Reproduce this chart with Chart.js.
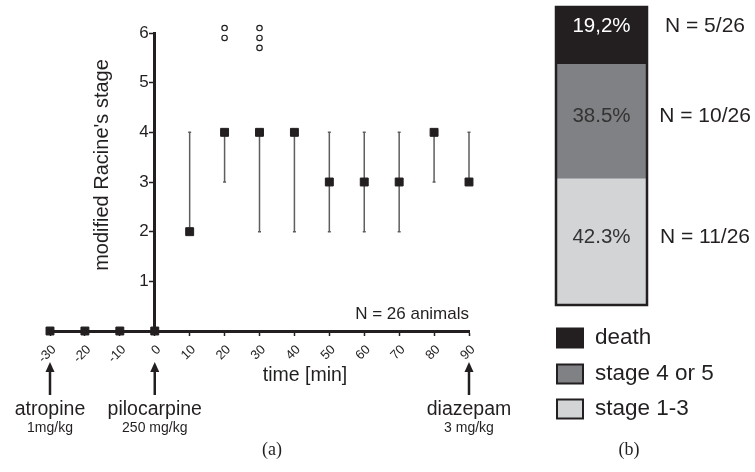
<!DOCTYPE html>
<html>
<head>
<meta charset="utf-8">
<script src="https://cdn.jsdelivr.net/npm/chart.js@4.4.0/dist/chart.umd.min.js"></script>
<style>
  html, body { margin: 0; padding: 0; background: #fff; }
  body { width: 755px; height: 472px; position: relative; overflow: hidden; }
  #boxA { position: absolute; left: 0; top: 0; width: 540px; height: 472px; }
  #boxB { position: absolute; left: 540px; top: 0; width: 215px; height: 472px; }
</style>
</head>
<body>
<div id="boxA"><canvas id="chartA"></canvas></div>
<div id="boxB"><canvas id="chartB"></canvas></div>
<script>
// (a) stade de Racine au cours du temps
const times = [-30, -20, -10, 0, 10, 20, 30, 40, 50, 60, 70, 80, 90];
const medianStage = [0, 0, 0, 0, 2, 4, 4, 4, 3, 3, 3, 4, 3];
const lowStage = [null, null, null, null, 2, 3, 2, 2, 2, 2, 2, 3, 3];
const highStage = [null, null, null, null, 4, 4, 4, 4, 4, 4, 4, 4, 4];
const deathTimes = [20, 20, 30, 30, 30];
const deathStage = [6.1, 5.9, 6.1, 5.9, 5.7];
const drugTimes = [-30, 0, 90];
const drugNames = ['atropine', 'pilocarpine', 'diazepam'];
const drugDoses = ['1mg/kg', '250 mg/kg', '3 mg/kg'];

// (b) issue des animaux
const outcomeLabels = ['stage 1-3', 'stage 4 or 5', 'death'];
const outcomePct = [42.3, 38.5, 19.2];
const outcomePctText = ['42.3%', '38.5%', '19,2%'];
const outcomeN = [11, 10, 5];
const totalN = 26;

const SANS = '"Liberation Sans", Arial, sans-serif';
const SERIF = '"Liberation Serif", "Times New Roman", serif';
const INK = '#231f20';

// barres d'erreur + annotations sous l'axe
const annotA = {
    id: 'annotA',
    beforeDatasetsDraw(chart) {
        const { ctx, scales: { x, y } } = chart;
        ctx.save();
        ctx.strokeStyle = '#5e5e5e';
        ctx.lineWidth = 1.5;
        times.forEach((t, i) => {
            if (lowStage[i] == null) return;
            const px = x.getPixelForValue(t);
            const y1 = y.getPixelForValue(lowStage[i]);
            const y2 = y.getPixelForValue(highStage[i]);
            ctx.beginPath();
            ctx.moveTo(px, y1); ctx.lineTo(px, y2);
            ctx.moveTo(px - 1.5, y1); ctx.lineTo(px + 1.5, y1);
            ctx.moveTo(px - 1.5, y2); ctx.lineTo(px + 1.5, y2);
            ctx.stroke();
        });
        ctx.restore();
    },
    afterDraw(chart) {
        const { ctx, scales: { x, y } } = chart;
        const base = y.getPixelForValue(0);
        ctx.save();
        ctx.fillStyle = INK;
        ctx.strokeStyle = INK;
        ctx.textAlign = 'center';
        ctx.textBaseline = 'middle';

        // flèches des injections
        drugTimes.forEach((t, i) => {
            const px = x.getPixelForValue(t);
            const tip = base + 31;
            ctx.lineWidth = 2.5;
            ctx.beginPath();
            ctx.moveTo(px, tip + 8); ctx.lineTo(px, base + 64);
            ctx.stroke();
            ctx.beginPath();
            ctx.moveTo(px, tip); ctx.lineTo(px - 4.5, tip + 10); ctx.lineTo(px + 4.5, tip + 10);
            ctx.closePath();
            ctx.fill();
            ctx.font = '19.5px ' + SANS;
            ctx.fillText(drugNames[i], px, base + 79);
            ctx.font = '14px ' + SANS;
            ctx.fillText(drugDoses[i], px, base + 97);
        });

        ctx.font = '19.5px ' + SANS;
        ctx.fillText('time [min]', 305, base + 45);

        ctx.font = '17px ' + SANS;
        ctx.textAlign = 'right';
        ctx.fillText('N = 26 animals', x.right, base - 17);

        // titre de l'axe y
        ctx.save();
        ctx.translate(102, 165);
        ctx.rotate(-Math.PI / 2);
        ctx.textAlign = 'center';
        ctx.font = '20px ' + SANS;
        ctx.fillText("modified Racine's stage", 0, 0);
        ctx.restore();

        ctx.textAlign = 'center';
        ctx.font = '18px ' + SERIF;
        ctx.fillText('(a)', 272, 450);
        ctx.restore();
    }
};

new Chart(document.getElementById('chartA'), {
    type: 'scatter',
    data: {
        datasets: [{
            label: 'median',
            data: times.map((t, i) => ({ x: t, y: medianStage[i] })),
            pointStyle: 'rect',
            pointRadius: 5.6,
            backgroundColor: INK,
            borderColor: INK,
            borderWidth: 1,
            clip: false
        }, {
            label: 'death',
            data: deathTimes.map((t, i) => ({ x: t, y: deathStage[i] })),
            pointStyle: 'circle',
            pointRadius: 2.7,
            backgroundColor: '#fff',
            borderColor: INK,
            borderWidth: 1.2,
            clip: false
        }]
    },
    options: {
        responsive: true,
        maintainAspectRatio: false,
        animation: false,
        layout: { padding: { left: 50, right: 71, top: 33, bottom: 0 } },
        scales: {
            x: {
                type: 'linear',
                min: -30,
                max: 90,
                afterFit: (scale) => { scale.height = 141; },
                ticks: {
                    stepSize: 10,
                    autoSkip: false,
                    minRotation: 45,
                    maxRotation: 45,
                    padding: 6,
                    labelOffset: 4,
                    color: INK,
                    font: { family: SANS, size: 13 }
                },
                grid: { drawOnChartArea: false, drawTicks: true, tickLength: 5, tickColor: INK, tickWidth: 1.5 },
                border: { color: INK, width: 3 }
            },
            y: {
                min: 0,
                max: 6,
                position: { x: 0 },
                ticks: {
                    stepSize: 1,
                    color: INK,
                    font: { family: SANS, size: 17 },
                    // l'axe est placé à x = 0 : Chart.js n'ajoute pas de marge, on la met dans le texte
                    callback: (v) => (v === 0 ? '' : v + ' \u200A')
                },
                grid: { drawOnChartArea: false, drawTicks: true, tickLength: 4, tickColor: INK, tickWidth: 1.5 },
                border: { color: INK, width: 3 }
            }
        },
        plugins: {
            legend: { display: false },
            tooltip: { enabled: false }
        }
    },
    plugins: [annotA]
});

// contour de la barre, pourcentages, effectifs et légende
const annotB = {
    id: 'annotB',
    afterDatasetsDraw(chart) {
        const { ctx } = chart;
        const n = chart.data.datasets.length;
        const els = chart.data.datasets.map((d, i) => chart.getDatasetMeta(i).data[0]);
        const first = els[0], last = els[n - 1];
        ctx.save();
        ctx.strokeStyle = INK;
        ctx.lineWidth = 2.5;
        ctx.strokeRect(first.x - first.width / 2, last.y, first.width, first.base - last.y);

        ctx.textAlign = 'center';
        ctx.textBaseline = 'middle';
        els.forEach((el, i) => {
            const cy = (el.y + el.base) / 2 - (i === n - 1 ? 9 : 5);
            ctx.font = '20.5px ' + SANS;
            ctx.fillStyle = i === n - 1 ? '#fff' : '#333';
            ctx.fillText(outcomePctText[i], el.x, cy);
            ctx.font = '21px ' + SANS;
            ctx.fillStyle = INK;
            ctx.fillText('N = ' + outcomeN[i] + '/' + totalN, 165, cy);
        });

        // légende (death en haut)
        const rows = [338, 374, 409];
        ctx.textAlign = 'left';
        for (let k = 0; k < n; k++) {
            const i = n - 1 - k;
            const ds = chart.data.datasets[i];
            ctx.fillStyle = ds.backgroundColor;
            ctx.fillRect(17, rows[k] - 9.5, 26, 19);
            ctx.lineWidth = 2;
            ctx.strokeStyle = INK;
            ctx.strokeRect(17, rows[k] - 9.5, 26, 19);
            ctx.fillStyle = INK;
            ctx.font = '22.5px ' + SANS;
            ctx.fillText(ds.label, 55, rows[k]);
        }

        ctx.textAlign = 'center';
        ctx.font = '18px ' + SERIF;
        ctx.fillText('(b)', 89, 450);
        ctx.restore();
    }
};

const outcomeColors = ['#d3d4d6', '#808184', INK];

new Chart(document.getElementById('chartB'), {
    type: 'bar',
    data: {
        labels: [''],
        datasets: outcomeLabels.map((l, i) => ({
            label: l,
            data: [outcomePct[i]],
            backgroundColor: outcomeColors[i],
            borderWidth: 0,
            barPercentage: 1,
            categoryPercentage: 1
        }))
    },
    options: {
        responsive: true,
        maintainAspectRatio: false,
        animation: false,
        layout: { padding: { left: 16, right: 108, top: 7, bottom: 167 } },
        scales: {
            x: { display: false, stacked: true },
            y: { display: false, stacked: true, min: 0, max: 100 }
        },
        plugins: {
            legend: { display: false },
            tooltip: { enabled: false }
        }
    },
    plugins: [annotB]
});
</script>
</body>
</html>
